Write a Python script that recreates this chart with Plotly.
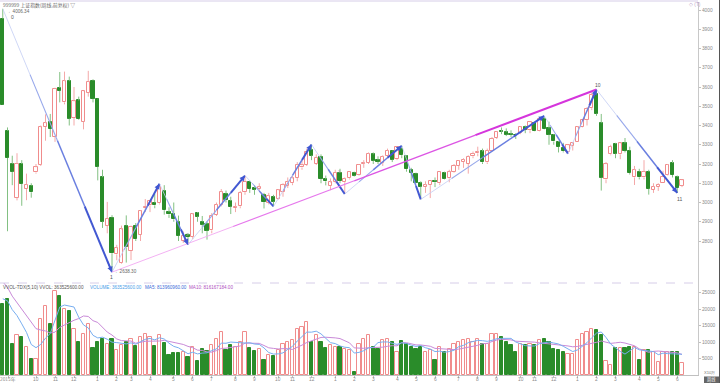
import plotly.graph_objects as go

W, H = 720, 383

# ---------------- data (weekly bars, 2015-08-17 .. 2018-06-04) ----------------
opens = [3955, 3373, 3200, 3025, 3200, 3070, 3087, 3156, 3197, 3392,
         3420, 3340, 3595, 3520, 3630, 3440, 3530, 3420, 3570, 3633,
         3536, 3131, 2880, 2922, 2730, 2687, 2880, 2750, 2880, 2832,
         2970, 2985, 3000, 2995, 3060, 2950, 2940, 2900, 2800, 2830,
         2822, 2945, 2900, 2888, 2855, 2935, 2987, 3045, 3008, 2971,
         2980, 3054, 3108, 3075, 3070, 3040, 3000, 3030, 3020, 3054,
         3087, 3100, 3127, 3182, 3195, 3275, 3200, 3235, 3120, 3085,
         3105, 3155, 3105, 3125, 3155, 3145, 3200, 3205, 3250, 3220,
         3205, 3240, 3265, 3225, 3280, 3240, 3170, 3150, 3100, 3080,
         3090, 3110, 3100, 3155, 3125, 3160, 3190, 3210, 3200, 3240,
         3255, 3265, 3208, 3270, 3335, 3367, 3365, 3355, 3350, 3360,
         3390, 3375, 3415, 3372, 3435, 3385, 3350, 3315, 3285, 3260,
         3295, 3314, 3392, 3430, 3490, 3563, 3412, 3120, 3250, 3305,
         3250, 3307, 3270, 3130, 3160, 3130, 3160, 3065, 3080, 3100,
         3145, 3205, 3132, 3088]
highs = [4006.34, 3390, 3243, 3256, 3220, 3150, 3100, 3200, 3400, 3458,
         3460, 3596, 3678, 3680, 3654, 3600, 3550, 3580, 3684, 3640,
         3539, 3170, 3003, 2934, 2780, 2880, 2933, 2880, 2893, 2960,
         3018, 3014, 3044, 3097, 3090, 2975, 3000, 2932, 2850, 2840,
         2945, 2950, 2930, 2900, 2945, 3000, 3070, 3062, 3030, 3000,
         3060, 3140, 3114, 3090, 3100, 3050, 3050, 3040, 3070, 3100,
         3130, 3140, 3210, 3220, 3280, 3301, 3250, 3250, 3140, 3125,
         3170, 3175, 3130, 3160, 3160, 3200, 3220, 3260, 3260, 3240,
         3245, 3280, 3270, 3290, 3295, 3245, 3180, 3155, 3110, 3110,
         3110, 3130, 3160, 3160, 3170, 3200, 3220, 3230, 3245, 3265,
         3290, 3280, 3280, 3340, 3370, 3390, 3385, 3375, 3360, 3395,
         3400, 3420, 3420, 3440, 3450, 3420, 3355, 3320, 3310, 3300,
         3310, 3395, 3430, 3495, 3572, 3587, 3460, 3210, 3300, 3310,
         3310, 3335, 3290, 3190, 3175, 3220, 3170, 3100, 3100, 3165,
         3200, 3220, 3140, 3120]
lows = [3507, 2850.71, 3090, 3011, 2983, 3012, 3025, 3150, 3190, 3321,
        3340, 3315, 3520, 3510, 3400, 3400, 3430, 3380, 3550, 3520,
        3115, 2868, 2840, 2638.30, 2700, 2682, 2688, 2701, 2800, 2800,
        2950, 2950, 2970, 2990, 2937, 2920, 2900, 2800, 2790, 2781,
        2810, 2900, 2840, 2807, 2840, 2930, 2980, 3000, 2940, 2950,
        2970, 3040, 3050, 3040, 3060, 2969, 2990, 2980, 3015, 3030,
        3075, 3090, 3110, 3170, 3190, 3220, 3195, 3100, 3089, 3064,
        3100, 3100, 3044, 3120, 3135, 3140, 3180, 3200, 3200, 3200,
        3190, 3230, 3210, 3220, 3230, 3160, 3110, 3100, 3016, 3050,
        3023, 3080, 3090, 3120, 3105, 3155, 3170, 3180, 3150, 3230,
        3240, 3200, 3200, 3265, 3330, 3355, 3345, 3340, 3330, 3355,
        3360, 3360, 3370, 3370, 3380, 3300, 3300, 3260, 3260, 3254,
        3270, 3314, 3390, 3400, 3480, 3450, 3062, 3100, 3245, 3230,
        3225, 3260, 3145, 3091, 3120, 3120, 3041, 3050, 3060, 3100,
        3140, 3130, 3050, 3080]
closes = [3508, 3232, 3160, 3200, 3097, 3092, 3053, 3183, 3391, 3412,
          3382, 3590, 3580, 3630, 3436, 3525, 3434, 3578, 3627, 3539,
          3186, 2901, 2916, 2737, 2763, 2860, 2767, 2874, 2810, 2955,
          2979, 3009, 2985, 3078, 2960, 2938, 2913, 2827, 2825, 2821,
          2938, 2927, 2885, 2854, 2932, 2988, 3054, 3012, 2979, 2976,
          3050, 3108, 3070, 3067, 3078, 3002, 3033, 3005, 3063, 3090,
          3104, 3125, 3196, 3193, 3262, 3244, 3232, 3123, 3110, 3104,
          3154, 3112, 3123, 3159, 3140, 3197, 3202, 3253, 3218, 3212,
          3237, 3269, 3223, 3287, 3246, 3173, 3155, 3103, 3083, 3090,
          3110, 3105, 3158, 3123, 3158, 3192, 3217, 3222, 3238, 3253,
          3262, 3209, 3269, 3332, 3367, 3366, 3353, 3352, 3349, 3391,
          3378, 3417, 3372, 3433, 3382, 3353, 3317, 3289, 3266, 3297,
          3307, 3391, 3429, 3487, 3558, 3462, 3129, 3199, 3289, 3254,
          3307, 3269, 3153, 3169, 3131, 3159, 3071, 3082, 3091, 3132,
          3195, 3143, 3075, 3115]
volumes = [21500, 23000, 9500, 12000, 11500, 8500, 4700, 4700, 17000, 21000,
           15500, 25500, 24000, 20000, 19500, 14000, 9900, 12500, 15500, 8200,
           10100, 11000, 9400, 11000, 7600, 9000, 10100, 11000, 8900, 11500,
           12500, 11500, 8900, 12000, 9600, 6200, 6700, 6700, 7000, 5600,
           8500, 4200, 7900, 7400, 9000, 11000, 13000, 7700, 9200, 8500,
           10000, 13000, 8200, 7200, 8000, 4600, 6000, 5900, 7500, 9500,
           10000, 10500, 14000, 14500, 16000, 9900, 12000, 9900, 8200, 9000,
           8500, 8400, 8000, 7500, 850, 9500, 11000, 12000, 8600, 8000,
           10500, 11000, 9900, 7000, 10400, 9400, 8500, 7900, 8500, 7000,
           7500, 4600, 8500, 6900, 8000, 9500, 10000, 10500, 11000, 10000,
           11000, 9500, 9500, 12500, 12500, 11500, 10000, 9000, 7000, 9500,
           9000, 9500, 9000, 10500, 11000, 10000, 8000, 7500, 7000, 6500,
           6500, 10500, 12500, 13000, 14000, 13500, 12200, 4200, 2900, 8200,
           8200, 8200, 8600, 8600, 4600, 7600, 7600, 7100, 3900, 6900,
           6900, 7100, 6900, 3635]
prior_volumes = [40000, 36000, 32000, 29000, 30000, 26000, 23000, 21000, 24000]

month_tick_idx = [1.2, 7, 11, 15, 20, 24, 27, 31, 36, 40, 44, 49, 53, 58, 61, 65,
                  70, 74, 78, 83, 87, 91, 96, 100, 104, 109, 112, 116,
                  121, 125, 129, 134, 138, 142]
month_tick_text = ["2015年", "10", "11", "12", "1", "2", "3", "4", "5", "6", "7", "8",
                   "9", "10", "11", "12", "1", "2", "3", "4", "5", "6", "7", "8",
                   "9", "10", "11", "12", "1", "2", "3", "4", "5", "6"]

pivot_idx = [0, 23, 33, 39, 51, 57, 65, 72, 84, 88, 114, 119, 125, 142]
pivot_price = [4006.34, 2638.30, 3097, 2781, 3140, 2980, 3301, 3044, 3295, 3016,
               3450, 3254, 3587, 3050]
trend_idx = [23, 125]
trend_price = [2638.30, 3587]

price_ticks = [2800, 2900, 3000, 3100, 3200, 3300, 3400, 3500, 3600, 3700, 3800, 3900, 4000]
vol_ticks = [5000, 10000, 15000, 20000, 25000]

# ---------------- style ----------------
UP = '#f08c8c'
UPW = '#f4a8a8'
DN = '#2a8c2a'
DNW = '#82c082'
AX = '#8a8a8a'
FONT = 'Liberation Sans, Arial, sans-serif'
CJK = 'Noto Sans CJK SC, sans-serif'

n = len(closes)
idx = list(range(n))

def px_x(x):
    return x / W

def px_y(y):
    return 1 - y / H

fig = go.Figure()

# candle bodies
body_base, body_h, body_fill, body_line = [], [], [], []
for o, c in zip(opens, closes):
    lo, hi = min(o, c), max(o, c)
    body_base.append(lo)
    body_h.append(max(hi - lo, 3))
    up = c >= o
    body_fill.append('#ffffff' if up else DN)
    body_line.append(UP if up else DN)

# wicks (above and below body)
wx_up, wy_up, wx_dn, wy_dn = [], [], [], []
for i, (o, h, l, c) in enumerate(zip(opens, highs, lows, closes)):
    top, bot = max(o, c), min(o, c)
    xs, ys = (wx_up, wy_up) if c >= o else (wx_dn, wy_dn)
    xs += [i, i, None, i, i, None]
    ys += [h, top, None, bot, l, None]

fig.add_trace(go.Scatter(x=wx_up, y=wy_up, mode='lines', line=dict(color=UPW, width=1),
                         hoverinfo='skip', xaxis='x', yaxis='y'))
fig.add_trace(go.Scatter(x=wx_dn, y=wy_dn, mode='lines', line=dict(color=DNW, width=1),
                         hoverinfo='skip', xaxis='x', yaxis='y'))
fig.add_trace(go.Bar(x=idx, y=body_h, base=body_base, width=0.72,
                     marker=dict(color=body_fill, line=dict(color=body_line, width=1)),
                     xaxis='x', yaxis='y', hoverinfo='skip'))

# tapered zigzag arrows
def tapered(x0, y0, x1, y1, colors, widths):
    k = len(colors)
    for j in range(k):
        a, b = j / k, (j + 1) / k
        fig.add_trace(go.Scatter(x=[x0 + (x1 - x0) * a, x0 + (x1 - x0) * b],
                                 y=[y0 + (y1 - y0) * a, y0 + (y1 - y0) * b],
                                 mode='lines', line=dict(color=colors[j], width=widths[j]),
                                 hoverinfo='skip', xaxis='x', yaxis='y'))

blue_cols = ['#c3cdf4', '#97a8eb', '#6a7fe0', '#4258d2']
blue_w = [0.8, 1.1, 1.5, 2.0]
for k in range(len(pivot_idx) - 1):
    tapered(pivot_idx[k], pivot_price[k], pivot_idx[k + 1], pivot_price[k + 1], blue_cols, blue_w)

mag_cols = ['#f2a8f2', '#e678ec', '#dc55e4', '#d535dc']
mag_w = [0.9, 1.1, 1.4, 2.0]
tapered(trend_idx[0], trend_price[0], trend_idx[1], trend_price[1], mag_cols, mag_w)

annotations = []
for k in range(1, len(pivot_idx)):
    x1, y1 = pivot_idx[k], pivot_price[k]
    x0, y0 = pivot_idx[k - 1], pivot_price[k - 1]
    annotations.append(dict(x=x1, y=y1, ax=x1 - (x1 - x0) * 0.05, ay=y1 - (y1 - y0) * 0.05,
                            xref='x', yref='y', axref='x', ayref='y', text='', showarrow=True,
                            arrowhead=2, arrowsize=0.9, arrowwidth=1.2, arrowcolor='#3f56d2'))

# volume
vol_fill = ['#ffffff' if c >= o else DN for o, c in zip(opens, closes)]
vol_line = [UP if c >= o else DN for o, c in zip(opens, closes)]
fig.add_trace(go.Bar(x=idx, y=volumes, width=0.72,
                     marker=dict(color=vol_fill, line=dict(color=vol_line, width=1)),
                     xaxis='x2', yaxis='y2', hoverinfo='skip'))

allv = prior_volumes + volumes
p = len(prior_volumes)
ma5 = [sum(allv[j + p - 4:j + p + 1]) / 5 for j in range(n)]
ma10 = [sum(allv[j + p - 9:j + p + 1]) / 10 for j in range(n)]
fig.add_trace(go.Scatter(x=idx, y=ma10, mode='lines', line=dict(color='#c98ad8', width=1),
                         xaxis='x2', yaxis='y2', hoverinfo='skip'))
fig.add_trace(go.Scatter(x=idx, y=ma5, mode='lines', line=dict(color='#78aef0', width=1),
                         xaxis='x2', yaxis='y2', hoverinfo='skip'))

# text labels
def txt(x, y, s, color='#555555', size=4.8, font=FONT, xanchor='left', xref='paper', **kw):
    d = dict(x=px_x(x) if xref == 'paper' else x, y=px_y(y), xref=xref, yref='paper', text=s,
             showarrow=False, xanchor=xanchor, yanchor='middle',
             font=dict(family=font, size=size, color=color))
    d.update(kw)
    annotations.append(d)

txt(1, 5, '999999 上证指数(周线,前复权) ▽', color='#666666', size=4.9, font=CJK)
txt(6, 11.5, '←4006.34', color='#666666', size=4.6)
txt(8.5, 17.5, '0', color='#555555', size=5)
txt(111.5, 277, '1', color='#555555', size=5, xanchor='center')
txt(113, 271.5, '←2638.30', color='#666666', size=4.6)
txt(187.5, 234, '2', color='#999999', size=4.4, xanchor='center')
txt(339.5, 171.5, '3', color='#999999', size=4.4, xanchor='center')
txt(598, 85, '10', color='#555555', size=5, xanchor='center')
txt(679, 198.5, '11', color='#555555', size=5, xanchor='center')
txt(687, 5, '◇ (T)', color='#b8a0c8', size=4.8)
txt(1, 287.5, 'VVOL-TDX(5,10) VVOL: 363525600.00', color='#555555', size=4.6)
txt(88, 287.5, 'VOLUME: 363525600.00', color='#4a9ee8', size=4.6)
txt(143, 287.5, 'MA5: 813960960.00', color='#3a6ad8', size=4.6)
txt(187, 287.5, 'MA10: 816167184.00', color='#b050c0', size=4.6)
txt(709, 372.5, 'X10万', color='#777777', size=4.2, xanchor='center')
txt(711.5, 379.8, '周线', color='#ffffff', size=4.2, font=CJK, xanchor='center')
for tv, tt in zip(month_tick_idx, month_tick_text):
    txt(tv, 379, tt, color=AX, size=4.8, font=CJK if '年' in tt else FONT,
        xanchor='center', xref='x2')

shapes = [
    dict(type='line', xref='paper', yref='paper', x0=0, x1=px_x(698), y0=px_y(1), y1=px_y(1),
         line=dict(color='#d6cde8', width=1)),
    dict(type='line', xref='paper', yref='paper', x0=0, x1=px_x(698), y0=px_y(283), y1=px_y(283),
         line=dict(color='#d6cde8', width=1, dash='dash')),
    dict(type='line', xref='paper', yref='paper', x0=px_x(719.5), x1=px_x(719.5), y0=0, y1=1,
         line=dict(color='#555555', width=1)),
    dict(type='rect', xref='paper', yref='paper', x0=px_x(704), x1=px_x(719), y0=px_y(383), y1=px_y(376.5),
         fillcolor='#666666', line=dict(width=0)),
]

xr = [(0 - 2.75) / 4.75, (698 - 2.75) / 4.75]
axis_font = dict(family=FONT, size=4.8, color=AX)

fig.update_layout(
    width=W, height=H, margin=dict(l=0, r=0, t=0, b=0),
    paper_bgcolor='#ffffff', plot_bgcolor='#ffffff',
    showlegend=False, barmode='overlay', bargap=0,
    annotations=annotations, shapes=shapes,
    xaxis=dict(domain=[0, 698 / W], range=xr, anchor='y', showticklabels=False,
               showgrid=False, zeroline=False, showline=False, fixedrange=True),
    yaxis=dict(domain=[px_y(283), px_y(2)], range=[2581.8, 4041.6], side='right', anchor='x',
               tickvals=price_ticks, ticktext=[str(v) for v in price_ticks], tickfont=axis_font,
               ticks='outside', ticklen=2, tickcolor='#c0c0c0', showgrid=False, zeroline=False,
               showline=True, linecolor='#c8c8c8', linewidth=1, automargin=False),
    xaxis2=dict(domain=[0, 698 / W], range=xr, anchor='y2', tickvals=month_tick_idx,
                showticklabels=False, ticks='outside', ticklen=2,
                tickcolor='#c0c0c0', showgrid=False, zeroline=False, showline=True,
                linecolor='#c0c0c0', automargin=False),
    yaxis2=dict(domain=[px_y(375), px_y(283)], range=[0, 27880], side='right', anchor='x2',
                tickvals=vol_ticks, ticktext=[str(v) for v in vol_ticks], tickfont=axis_font,
                ticks='outside', ticklen=2, tickcolor='#c0c0c0', showgrid=False, zeroline=False,
                showline=True, linecolor='#c8c8c8', automargin=False),
)

fig.write_html('out.html', config={'displayModeBar': False},
               post_script="document.body.style.margin='0';document.body.style.padding='0';"
                           "document.body.style.overflow='hidden';")
